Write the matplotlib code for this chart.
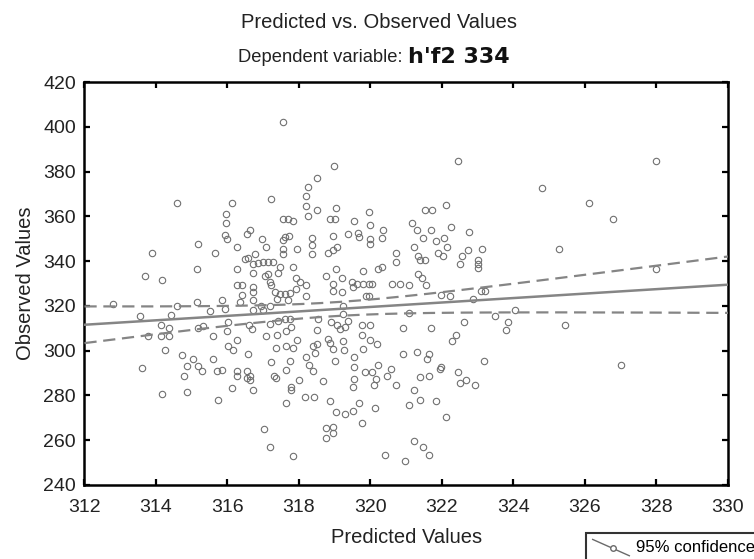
import matplotlib
matplotlib.use("Agg")
import matplotlib.pyplot as plt
import numpy as np
from matplotlib.lines import Line2D
from matplotlib.legend_handler import HandlerBase

plt.rcParams['font.family'] = ['Liberation Sans', 'DejaVu Sans']

# ---- data ----
pred = [
317.54,318.98,318.51,318.26,318.19,317.23,316.12,318.19,318.51,319.03,318.26,315.96,315.96,317.54,317.68,317.84,318.87,319.00,319.54,
316.54,316.63,315.93,315.98,316.96,317.61,317.73,317.56,318.37,318.37,318.96,319.38,319.66,319.69,
316.26,317.09,317.54,317.54,317.95,318.37,318.82,318.94,319.07,315.65,316.49,316.58,316.77,316.72,316.86,317.00,317.14,317.28,317.47,316.26,316.72,317.05,317.14,317.40,317.84,318.77,319.03,319.19,
317.19,317.23,317.93,318.03,318.21,316.26,316.40,316.72,316.42,316.72,317.33,317.47,317.61,317.75,317.93,318.21,318.96,318.96,319.19,319.47,319.52,319.61,317.39,317.70,316.35,315.86,316.72,316.72,316.95,317.00,317.19,315.51,315.93,319.24,319.24,
315.32,316.02,315.98,316.61,316.68,317.19,317.42,317.61,317.75,317.79,317.65,318.54,318.51,318.91,319.07,319.15,319.29,319.38,
315.60,316.26,317.09,317.39,317.95,317.36,317.64,317.84,318.38,318.51,318.45,318.82,318.88,318.94,319.24,319.26,316.02,316.16,316.58,315.60,315.28,315.70,315.84,316.26,316.26,316.54,316.63,316.63,316.54,316.14,316.72,315.74,317.23,317.30,317.36,317.65,317.75,318.01,317.79,317.79,318.21,318.29,318.38,318.68,319.01,319.54,319.54,319.54,319.50,317.65,318.17,318.42,318.87,319.03,319.29,319.50,319.69,317.02,318.77,318.77,318.96,318.96,317.19,
322.45,321.52,321.73,322.11,319.95,320.00,320.35,320.00,320.00,320.31,321.17,321.29,321.69,321.47,321.84,322.05,322.25,322.15,322.76,323.13,322.73,322.57,322.50,323.01,323.01,323.01,321.22,321.33,321.38,321.52,321.89,322.03,320.71,320.71,319.79,320.21,320.31,319.79,319.96,320.03,320.61,320.82,321.08,321.33,321.43,321.55,319.87,319.96,321.98,322.22,322.87,323.08,323.20,321.08,323.48,324.04,323.85,323.78,319.75,320.00,320.91,321.69,322.61,319.75,319.79,320.00,320.18,322.40,322.29,320.91,321.29,321.64,321.58,323.17,319.84,320.03,320.21,320.15,320.09,320.46,320.57,320.71,321.38,321.64,321.94,321.98,322.45,322.50,322.67,322.92,321.22,321.38,321.08,321.84,322.11,320.12,319.75,321.22,321.47,
317.82,320.41,320.97,321.65,314.16,314.88,
313.88,315.18,313.69,314.16,315.14,312.79,314.58,315.14,313.55,314.41,314.13,314.37,313.79,314.13,314.37,314.25,315.18,313.60,314.72,315.04,314.88,315.18,314.78,
314.58,
324.81,326.11,326.77,328.00,325.28,328.00,325.44,327.02,
]
obs = [
402.3,382.4,377.3,373.2,369.0,367.7,366.0,364.5,362.7,363.6,360.0,361.1,357.1,358.7,358.7,358.0,358.7,358.7,358.0,
352.3,353.8,351.5,350.1,349.8,350.8,351.2,349.3,350.4,347.1,351.2,352.3,352.6,350.8,
346.3,346.3,345.6,343.3,345.6,343.3,343.8,345.1,346.3,343.8,341.1,341.6,343.0,338.9,339.2,339.6,339.6,339.6,337.4,336.6,334.7,333.4,334.4,334.7,337.4,333.2,336.6,332.6,
330.7,329.2,332.6,330.7,329.2,329.2,329.2,328.4,325.1,326.2,326.2,325.4,325.4,325.7,327.7,324.4,329.9,326.9,326.2,330.7,328.4,329.6,323.2,322.5,321.7,322.5,322.5,318.3,319.8,318.3,320.2,317.7,318.7,320.2,316.5,
311.0,312.8,309.0,311.7,309.8,312.0,313.5,314.0,314.3,310.5,308.7,314.0,309.3,312.8,311.6,309.8,310.5,313.5,
306.4,304.6,306.4,306.8,304.6,301.1,301.9,301.1,301.9,302.8,298.9,305.3,303.4,300.9,304.3,300.4,301.9,300.1,298.6,296.1,291.1,290.8,291.4,290.8,288.5,290.8,288.9,286.7,287.9,283.4,282.5,278.2,294.9,288.9,287.9,291.4,295.6,286.7,284.0,282.5,297.1,293.4,291.1,286.4,295.6,297.1,292.6,287.4,283.7,276.5,279.2,279.2,277.4,272.5,271.8,273.2,276.5,265.0,265.5,261.0,266.1,263.1,257.1,
384.8,362.7,362.7,365.3,362.0,356.3,353.8,350.1,347.8,350.5,357.1,353.8,353.8,350.5,348.9,350.5,355.3,346.3,352.9,345.6,344.8,342.2,338.9,340.7,338.9,337.1,346.3,342.2,340.7,340.7,343.6,342.2,343.6,339.6,335.6,336.3,337.4,329.9,329.6,329.9,329.6,329.6,329.2,334.1,332.6,329.2,324.3,324.3,325.1,324.3,323.2,326.6,326.9,316.8,315.3,318.3,312.8,309.3,311.7,311.7,310.2,310.2,312.8,306.8,300.8,304.6,303.1,306.8,304.3,298.6,299.6,298.6,296.1,295.6,290.4,290.4,293.7,287.4,284.9,288.9,291.9,284.7,288.2,288.9,291.9,292.9,290.4,285.5,287.1,284.7,282.5,278.2,275.8,277.4,270.3,274.4,267.7,259.5,257.1,
252.8,253.6,250.5,253.6,280.7,281.5,
343.8,347.8,333.4,331.4,336.4,321.0,320.2,321.7,315.3,316.1,311.6,310.3,306.4,306.4,306.4,300.4,310.3,292.4,297.9,296.4,293.0,293.0,288.9,
366.0,
372.7,366.0,358.9,384.8,345.6,336.6,311.3,293.8,
]

# fitted line (read at the axis ends) and 95% band shape
fit_x_ends = [312, 330]
fit_y_ends = [311.6, 329.5]
ci_center = 318.9      # x of narrowest band
ci_min_half = 3.1      # half-width at the centre
ci_curv = 1.21         # growth of squared half-width

x_ticks = [312, 314, 316, 318, 320, 322, 324, 326, 328, 330]
y_ticks = [240, 260, 280, 300, 320, 340, 360, 380, 400, 420]

title1 = "Predicted vs. Observed Values"
title2a = "Dependent variable: "
title2b = "h'f2 334"
xlabel = "Predicted Values"
ylabel = "Observed Values"
legend_label = "95% confidence"

# ---- figure ----
fig = plt.figure(figsize=(7.54, 5.59), dpi=100)
ax = fig.add_axes([0.112, 0.1324, 0.8535, 0.7206])

xx = np.linspace(fit_x_ends[0], fit_x_ends[1], 200)
slope = (fit_y_ends[1] - fit_y_ends[0]) / (fit_x_ends[1] - fit_x_ends[0])
yy = fit_y_ends[0] + slope * (xx - fit_x_ends[0])
half = np.sqrt(ci_min_half**2 + ci_curv * (xx - ci_center)**2)

ax.plot(pred, obs, linestyle='none', marker='o', ms=4.6, mfc='none',
        mec='#707070', mew=0.8, zorder=2)
ax.plot(xx, yy, color='#858585', lw=1.8, zorder=3)
ax.plot(xx, yy + half, color='#858585', lw=1.6, ls=(0, (5.5, 3)), zorder=3)
ax.plot(xx, yy - half, color='#858585', lw=1.6, ls=(0, (5.5, 3)), zorder=3)

ax.set_xlim(312, 330)
ax.set_ylim(240, 420)
ax.set_xticks(x_ticks)
ax.set_yticks(y_ticks)
ax.tick_params(direction='in', length=4, width=1.6, top=True, right=True,
               labelsize=14, colors='black')
ax.tick_params(axis='x', pad=10)
ax.tick_params(axis='y', pad=6)
for t in ax.get_xticklabels() + ax.get_yticklabels():
    t.set_color('#222222')
for s in ax.spines.values():
    s.set_linewidth(1.8)
ax.set_xlabel(xlabel, fontsize=14.5, labelpad=9, color='#222222')
ax.set_ylabel(ylabel, fontsize=14.5, labelpad=6, color='#222222')

fig.text(0.503, 1 - 22 / 559, title1, ha='center', va='center', fontsize=14.5,
         color='#222222')
fig.text(0.541, 1 - 57 / 559, title2a, ha='right', va='center', fontsize=13.2,
         color='#222222')
fig.text(0.541, 1 - 57 / 559, title2b, ha='left', va='center', fontsize=16,
         fontweight='bold', family=['DejaVu Sans'], color='#111111')


class DiagHandler(HandlerBase):
    def create_artists(self, legend, orig_handle, xdescent, ydescent, width,
                       height, fontsize, trans):
        x0, y0 = -xdescent, -ydescent
        l = Line2D([x0, x0 + width], [y0 + height * 1.05, y0 - height * 0.35],
                   color='#6a6a6a', lw=1.0, transform=trans)
        m = Line2D([x0 + width * 0.55], [y0 + height * 0.3], marker='o',
                   mfc='white', mec='#6a6a6a', ms=4, ls='none', transform=trans)
        return [l, m]


h = Line2D([], [])
leg = fig.legend([h], [legend_label], handler_map={Line2D: DiagHandler()},
                 loc='upper left', bbox_to_anchor=(586 / 754, 1 - 533 / 559),
                 frameon=True, fancybox=False, fontsize=12, borderaxespad=0,
                 handlelength=2.2, handletextpad=0.4, borderpad=0.4)
leg.get_frame().set_edgecolor('black')
leg.get_frame().set_linewidth(1.5)

fig.savefig('out.png', dpi=100)
